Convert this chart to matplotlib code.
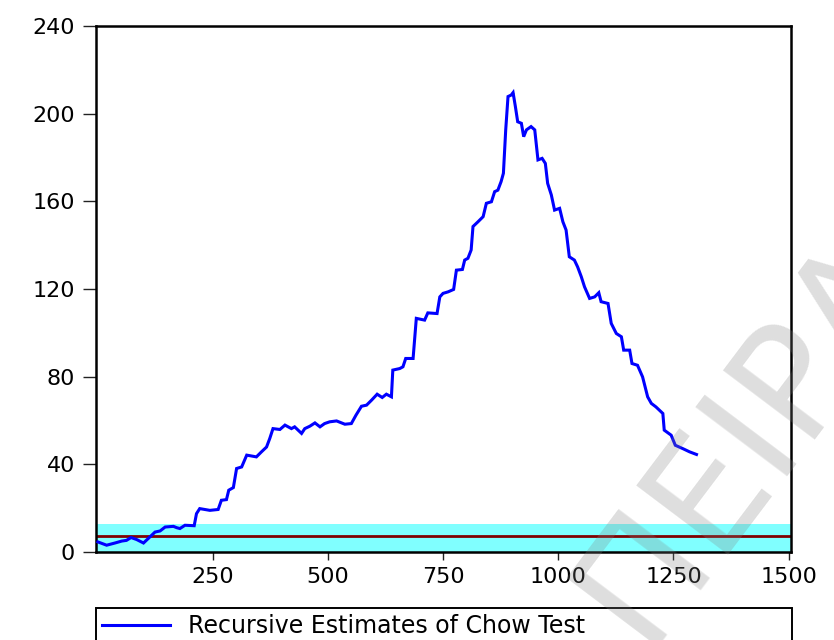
import matplotlib
matplotlib.use("Agg")
import matplotlib.pyplot as plt

# Recursive Chow test estimates (observation, statistic)
obs = [1, 20, 38, 53, 63, 73, 85, 100, 114, 125, 136, 147, 165, 172, 179, 190,
       210, 215, 222, 244, 262, 269, 280, 285, 295, 302, 313, 324, 345, 356,
       367, 374, 381, 396, 407, 421, 428, 443, 450, 461, 472, 483, 493, 504,
       519, 537, 551, 561, 573, 584, 595, 607, 618, 627, 638, 641, 656, 663,
       669, 685, 692, 710, 717, 737, 743, 750, 761, 773, 779, 792, 797, 804,
       811, 815, 826, 837, 844, 855, 862, 869, 876, 881, 886, 891, 898, 902,
       907, 912, 920, 925, 931, 941, 949, 956, 965, 972, 977, 985, 992, 1003,
       1010, 1017, 1024, 1035, 1042, 1050, 1057, 1068, 1079, 1088, 1093, 1108,
       1115, 1126, 1137, 1142, 1155, 1160, 1172, 1183, 1194, 1202, 1212, 1227,
       1230, 1245, 1254, 1270, 1285, 1300]
chow = [4.6, 3.1, 4.1, 5.0, 5.3, 6.6, 5.7, 4.1, 6.9, 9.1, 9.6, 11.4, 11.7, 11.1,
        10.7, 12.2, 12.0, 17.5, 19.8, 19.0, 19.4, 23.6, 23.9, 28.2, 29.4, 38.1,
        38.8, 44.2, 43.4, 45.7, 47.9, 51.8, 56.3, 55.9, 57.9, 56.3, 57.1, 54.1,
        56.3, 57.4, 58.9, 57.1, 58.6, 59.4, 59.8, 58.3, 58.6, 62.4, 66.5, 67.0,
        69.3, 72.0, 70.5, 72.0, 70.8, 83.0, 83.7, 84.5, 88.3, 88.3, 106.6, 105.8,
        109.1, 108.8, 116.4, 118.0, 118.7, 119.8, 128.6, 128.9, 133.2, 134.0,
        137.8, 148.5, 150.7, 153.0, 159.1, 159.8, 164.4, 165.1, 169.0, 172.8,
        192.6, 207.8, 208.5, 209.6, 203.2, 196.3, 195.6, 189.5, 192.6, 194.1,
        192.6, 178.9, 179.6, 177.3, 168.2, 162.9, 156.0, 156.8, 150.7, 146.9,
        134.7, 133.2, 130.1, 125.6, 121.0, 115.7, 116.4, 118.3, 114.2, 113.4,
        104.3, 99.7, 98.2, 92.1, 92.1, 86.0, 85.2, 79.9, 70.8, 67.8, 66.2, 63.2,
        55.6, 53.3, 48.7, 47.2, 45.7, 44.5]

# Critical value and its band
crit_value = 7.2
band_low, band_high = 0.0, 12.6

x_ticks = [250, 500, 750, 1000, 1250, 1500]
y_ticks = [0, 40, 80, 120, 160, 200, 240]
legend_label = "Recursive Estimates of Chow Test"
watermark = "ΠΕΙΡΑ"

plt.rcParams["font.family"] = ["DejaVu Sans"]

fig = plt.figure(figsize=(8.34, 6.40), dpi=100)
ax = fig.add_axes([0.1157, 0.1375, 0.8327, 0.8219])

ax.axhspan(band_low, band_high, color="#80ffff", lw=0, zorder=1)
ax.axhline(crit_value, color="#800000", lw=2.0, zorder=2)
line, = ax.plot(obs, chow, color="#0000ff", lw=2.2, zorder=3,
                solid_joinstyle="miter")

ax.set_xlim(-2, 1505)
ax.set_ylim(0, 240)
ax.set_xticks(x_ticks)
ax.set_yticks(y_ticks)

for s in ax.spines.values():
    s.set_linewidth(1.8)
    s.set_color("black")

ax.tick_params(axis="y", direction="out", length=9.4, width=1.0,
               color="#222222", pad=6, labelsize=16)
ax.tick_params(axis="x", direction="out", length=5.8, width=1.0,
               color="#222222", pad=5, labelsize=16)

leg = ax.legend([line], [legend_label], loc="upper left",
                bbox_to_anchor=(96 / 834, 1 - 608 / 640, (792 - 96) / 834, 0),
                bbox_transform=fig.transFigure, mode="expand",
                borderaxespad=0, fontsize=17, handlelength=2.9,
                handletextpad=0.75, borderpad=0.25, fancybox=False,
                framealpha=1, edgecolor="black")
leg.get_frame().set_linewidth(1.4)

fig.text(0.772, -0.011, watermark, fontsize=112, rotation=53,
         rotation_mode="anchor", ha="left", va="baseline",
         color="#808080", alpha=0.26, zorder=10)

fig.savefig("out.png", dpi=100)
